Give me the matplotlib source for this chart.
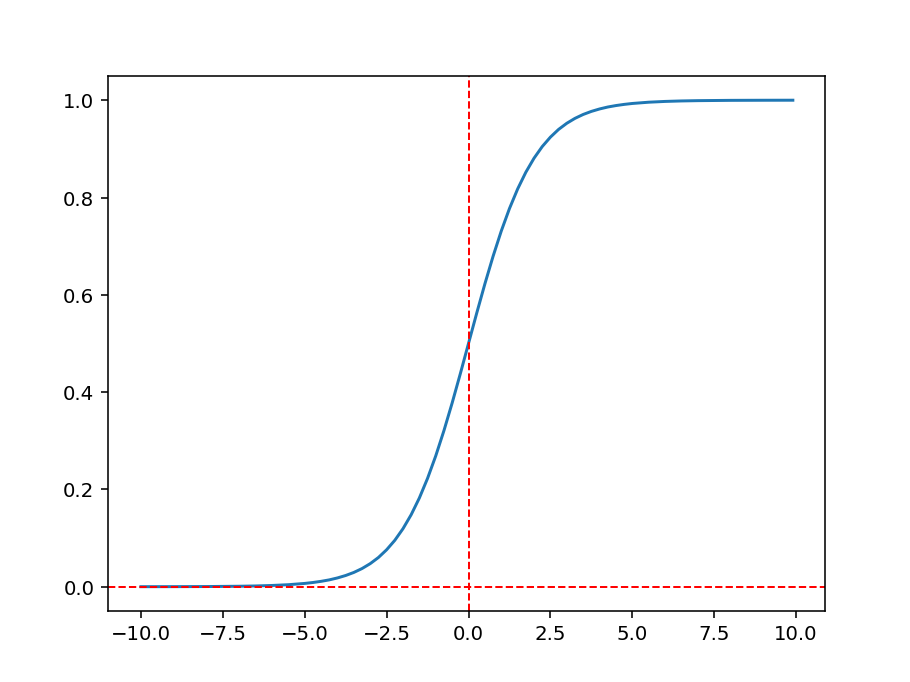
import numpy as np
import matplotlib.pyplot as plt

# values
x_vals = [-10.0, -9.0, -8.0, -7.0, -6.5, -6.0, -5.5, -5.0, -4.75, -4.5, -4.25, -4.0,
          -3.75, -3.5, -3.25, -3.0, -2.75, -2.5, -2.25, -2.0, -1.75, -1.5, -1.25,
          -1.0, -0.75, -0.5, -0.25, 0.0, 0.25, 0.5, 0.75, 1.0, 1.25, 1.5, 1.75,
          2.0, 2.25, 2.5, 2.75, 3.0, 3.25, 3.5, 3.75, 4.0, 4.25, 4.5, 4.75, 5.0,
          5.5, 6.0, 6.5, 7.0, 8.0, 9.0, 9.9]
y_vals = [0.0000, 0.0001, 0.0003, 0.0009, 0.0015, 0.0025, 0.0041, 0.0067, 0.0086, 0.0110,
          0.0140, 0.0180, 0.0230, 0.0293, 0.0373, 0.0474, 0.0600, 0.0759, 0.0953, 0.1192,
          0.1480, 0.1824, 0.2227, 0.2689, 0.3208, 0.3775, 0.4378, 0.5000, 0.5622, 0.6225,
          0.6792, 0.7311, 0.7773, 0.8176, 0.8520, 0.8808, 0.9047, 0.9241, 0.9400, 0.9526,
          0.9627, 0.9707, 0.9770, 0.9820, 0.9860, 0.9890, 0.9914, 0.9933, 0.9959, 0.9975,
          0.9985, 0.9991, 0.9997, 0.9999, 1.0000]

fig = plt.figure(figsize=(6.4, 4.8), dpi=142.2)
plt.subplots_adjust(left=0.119, right=0.907, top=0.888, bottom=0.104)

plt.plot(x_vals, y_vals)
plt.axvline(0, color="red", linestyle="--", linewidth=1)
plt.axhline(0, color="red", linestyle="--", linewidth=1)

plt.savefig("out.png", dpi=142.2)
plt.close()
